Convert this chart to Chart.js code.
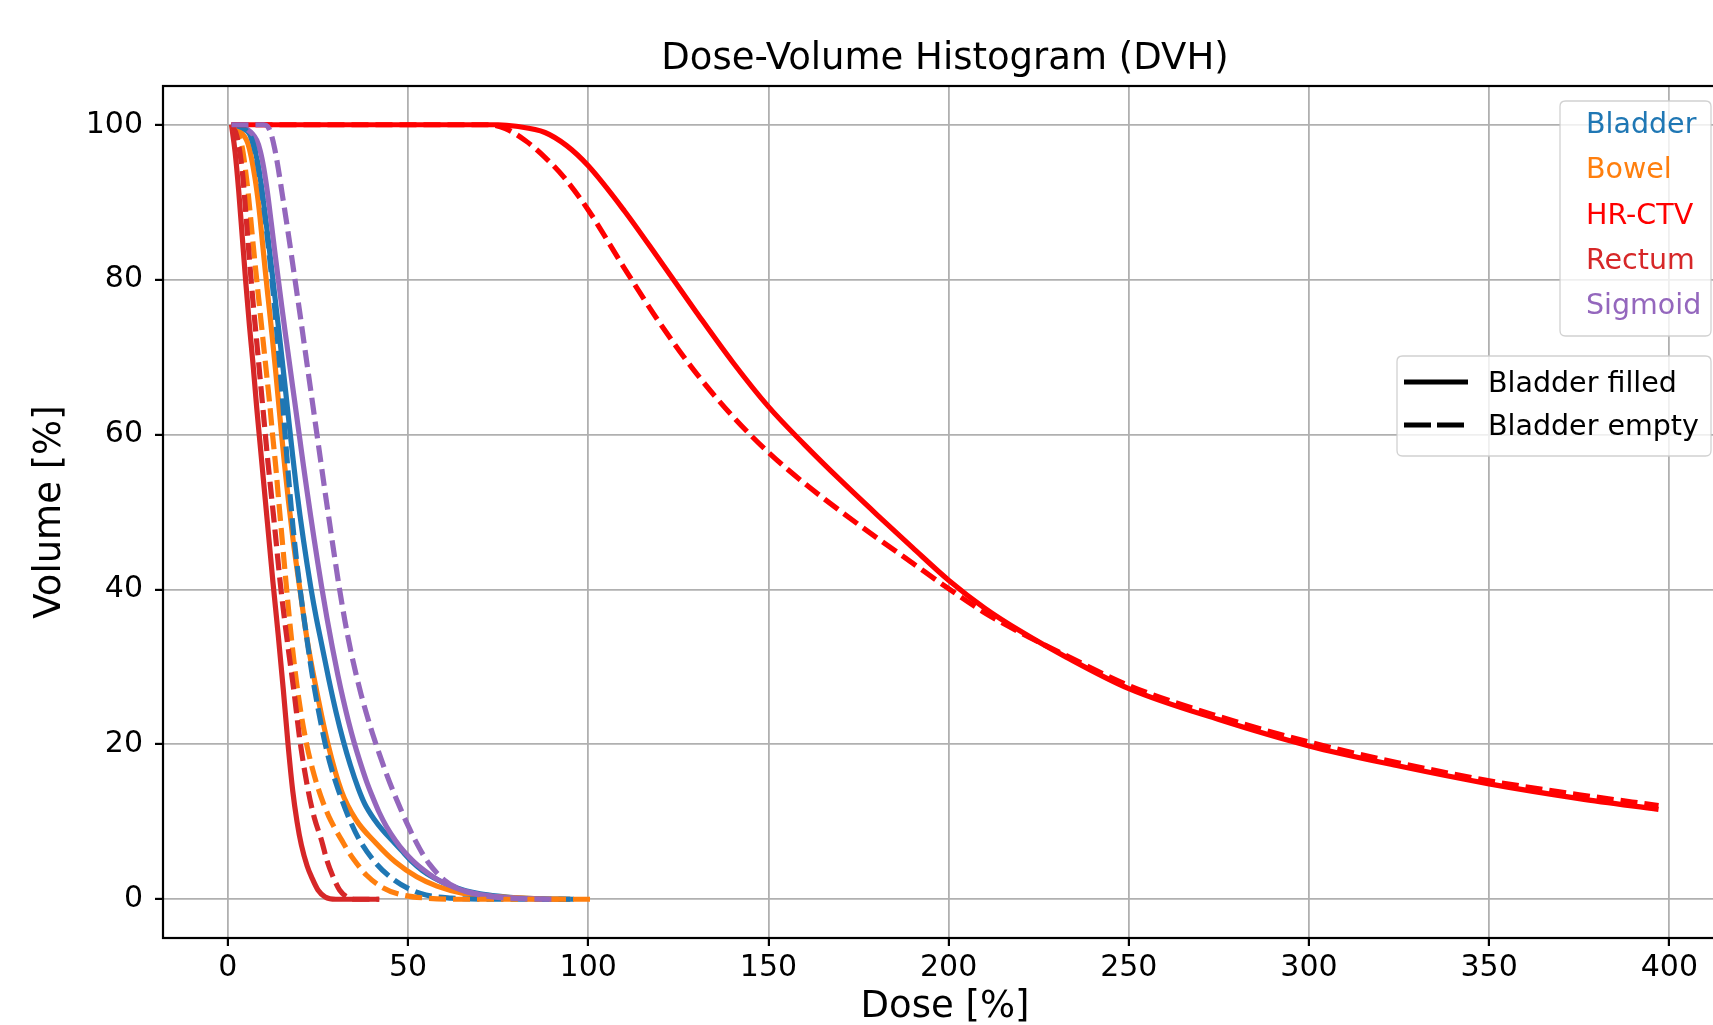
<!DOCTYPE html>
<html>
<head>
<meta charset="utf-8">
<title>Dose-Volume Histogram (DVH)</title>
<script src="https://cdn.jsdelivr.net/npm/chart.js@4.4.1/dist/chart.umd.min.js"></script>
<style>
  html, body { margin: 0; padding: 0; background: #fff; overflow: hidden; }
  #dvhChart { display: block; }
</style>
</head>
<body>
<canvas id="dvhChart" width="1760" height="1060"></canvas>
<script>
// structures and axis ticks
const structures = ['Bladder', 'Bowel', 'HR-CTV', 'Rectum', 'Sigmoid'];
const structureColors = ['#1f77b4', '#ff7f0e', '#ff0000', '#d62728', '#9467bd'];
const doseTicks = [0, 50, 100, 150, 200, 250, 300, 350, 400];
const volumeTicks = [0, 20, 40, 60, 80, 100];

// cumulative DVH curves, [dose %, volume %]
// bladder filled
const bladderFilled = [[1,100],[4,99.6],[6,98.8],[7,97.6],[8,95.7],[9,93],[10,89.6],[11,85.9],[12,82],[13,78],[14,74],[15,69.9],[16,65.7],[17,61.4],[18,57.2],[19,53.2],[20,49.6],[21,46.3],[22,43.2],[23,40.3],[24.5,36.4],[26,33],[28,28.4],[30,24.2],[32,20.5],[34,17.3],[36.2,14.3],[38,12.3],[40.5,10.4],[43,8.9],[46,7.4],[48,6.4],[51,4.9],[54,3.7],[57,2.8],[60,2.1],[63,1.55],[66,1.1],[70,0.7],[75,0.4],[80,0.2],[87,0.07],[96,0]];
const bowelFilled = [[1,100],[3,99.3],[5.6,97.5],[7.5,93.2],[8.7,89],[9.6,84.8],[10.5,80.6],[11.5,76.2],[12.4,72.2],[13.3,68],[14.1,64],[14.9,60],[15.8,55.8],[16.8,51.5],[18.2,46],[20,40],[22,33.5],[24.6,27],[27.8,20],[31.5,14],[35.5,10.3],[41,7.3],[46.5,4.8],[52.4,2.9],[58,1.7],[65,0.8],[75,0.3],[85,0.1],[95,0]];
const hrctvFilled = [[1,100],[60,100],[75,100],[80,99.8],[88,99],[94,97.3],[100,94.7],[110,88.9],[120,82.4],[130,75.8],[140,69.4],[150,63.6],[160,58.7],[170,54.1],[180,49.7],[190,45.4],[200,41.2],[210,37.6],[220,34.6],[232.5,31.3],[250,27.2],[275,23.2],[300,19.8],[325,17.2],[350,14.9],[375,13],[397,11.6]];
const rectumFilled = [[1,100],[2,96.5],[3,91.5],[4,85.5],[5,79.5],[6,74],[7,69],[8,63.5],[9,58.5],[10,53.5],[11,48.5],[12.5,41],[14,34],[15.4,27],[16.7,20],[18,14],[19.2,10],[20.4,7],[22,4.3],[23.3,2.8],[25,1.2],[27,0.3],[30,0],[42,0]];
const sigmoidFilled = [[1,100],[5,99.5],[8,98],[9,96.6],[10,94.3],[11,91.2],[12,87.5],[13,83.7],[14,80],[15,76.4],[16,72.9],[17,69.5],[18,66.1],[19,62.7],[20,59.3],[21,55.9],[22,52.6],[23,49.4],[24,46.3],[25,43.3],[26,40.4],[27.5,36.3],[29,32.5],[30.5,29],[32,25.8],[33.5,22.9],[35,20.3],[36.5,18],[38.5,15.2],[40,13.4],[42,11.2],[44,9.4],[46.5,7.6],[49,6.1],[51.5,4.9],[54,3.9],[57,2.9],[60,2.1],[63,1.5],[66,1],[70,0.6],[78,0.2],[88,0]];

// bladder empty
const bladderEmpty = [[1,100],[4,99.6],[6,98.8],[7,97.6],[8,95.6],[9,92.8],[10,89.3],[11,85.3],[12,81],[13,76.3],[14,71.1],[15,65.5],[16,59.3],[17,53.6],[18,48.4],[19,44],[20,40.2],[21,36.7],[22,33.4],[23,30.2],[24,27.3],[25,24.7],[26,22.3],[27,20.1],[28.5,17.3],[30.6,14.2],[33.5,10.6],[36.6,7.6],[41,4.7],[45,2.9],[50,1.4],[55,0.55],[62,0.15],[70,0.02],[95,0]];
const bowelEmpty = [[1,100],[2,99.3],[3.8,97.5],[5.2,93],[6.1,89],[7,84.6],[8,80],[8.9,76],[9.8,72],[10.7,68],[11.6,64],[12.4,60],[13.3,55.8],[14.1,51.5],[15,46.8],[16,41.6],[17,36.6],[18,32.1],[19,28.2],[20,24.9],[21,22.1],[22,19.7],[23.5,16.8],[25,14.4],[26.5,12.4],[28,10.7],[30,8.9],[31.5,7.7],[33,6.5],[35,5.1],[38.5,3.1],[43,1.5],[48,0.6],[55,0.15],[65,0],[102,0]];
const hrctvEmpty = [[1,100],[60,100],[72,100],[77,99.5],[82.7,97.9],[88,95.8],[93.3,93.2],[100,89],[110,81.5],[120,74.3],[130,67.9],[140,62.4],[150,57.7],[160,53.7],[170,50.1],[180,46.7],[190,43.4],[200,40.1],[210,37],[220,34.4],[232.5,31.5],[250,27.6],[275,23.6],[300,20.3],[325,17.6],[350,15.3],[375,13.5],[397,12.1]];
const rectumEmpty = [[1,100],[2.5,98.5],[4,94],[5,88.5],[6,82.5],[7,77],[8,72],[9,67],[10,62],[11,57],[12,52.5],[13,48],[14.5,41],[16.3,34],[18.3,27],[20,20.5],[22.3,14],[24,10.5],[26,7.6],[27.5,5],[29.2,2.9],[31,1.2],[33,0.3],[35,0],[42,0]];
const sigmoidEmpty = [[1,100],[10,100],[11,99.8],[12,98.8],[13,96.9],[14,94.3],[15,91.3],[16,88.3],[17,85.2],[18,82],[19,78.8],[20,75.6],[21,72.3],[22,69],[23,65.7],[24,62.4],[25,59.1],[26,55.8],[27,52.5],[28,49.3],[29,46.1],[30,43],[31,40],[32.5,35.9],[34,32.3],[35.5,29.2],[37,26.4],[38.5,23.9],[40,21.6],[42,18.8],[44,16.2],[46,13.8],[48,11.6],[50,9.5],[52,7.6],[54,5.9],[56,4.5],[58,3.4],[60,2.5],[63,1.6],[67,0.9],[72,0.4],[80,0.1],[90,0]];

const filledSeries = [bladderFilled, bowelFilled, hrctvFilled, rectumFilled, sigmoidFilled];
const emptySeries = [bladderEmpty, bowelEmpty, hrctvEmpty, rectumEmpty, sigmoidEmpty];

const FONT = "'DejaVu Sans', 'Liberation Sans', sans-serif";
const LINE_W = 5.2;
const DASH = [17, 7];

function makeLine(label, pts, color, dash) {
    return {
        label: label,
        data: pts.map(p => ({ x: p[0], y: p[1] })),
        borderColor: color,
        backgroundColor: color,
        borderWidth: LINE_W,
        borderDash: dash,
        borderCapStyle: 'butt',
        pointRadius: 0,
        fill: false,
        cubicInterpolationMode: 'monotone'
    };
}

const datasets = [];
filledSeries.forEach((pts, i) => datasets.push(makeLine(structures[i] + ' filled', pts, structureColors[i], [])));
emptySeries.forEach((pts, i) => datasets.push(makeLine(structures[i] + ' empty', pts, structureColors[i], DASH)));
// later lines on top, like matplotlib
datasets.forEach((ds, i) => { ds.order = datasets.length - i; });

// frame, title and the two legends
const decorPlugin = {
    id: 'decor',
    afterDatasetsDraw(chart) {
        const { ctx, chartArea: a } = chart;
        ctx.save();
        ctx.strokeStyle = '#000';
        ctx.lineWidth = 2.2;
        ctx.strokeRect(a.left, a.top, a.right - a.left, a.bottom - a.top);
        ctx.restore();
    },
    afterDraw(chart) {
        const { ctx, chartArea: a } = chart;
        ctx.save();
        // title
        ctx.fillStyle = '#000';
        ctx.font = '37px ' + FONT;
        ctx.textAlign = 'center';
        ctx.textBaseline = 'alphabetic';
        ctx.fillText('Dose-Volume Histogram (DVH)', (a.left + a.right) / 2, 68.5);

        // structure legend (coloured labels, no handles)
        const boxRight = a.right - 16;
        let bx = boxRight - 151, by = a.top + 15;
        legendBox(ctx, bx, by, 151, 235);
        ctx.font = '28.5px ' + FONT;
        ctx.textAlign = 'left';
        structures.forEach((name, i) => {
            ctx.fillStyle = structureColors[i];
            ctx.fillText(name, bx + 26, by + 32 + 45.3 * i);
        });

        // line style legend
        bx = 1397; by = a.top + 270;
        legendBox(ctx, bx, by, boxRight - bx, 100);
        const styles = [[], [27, 6]];
        const names = ['Bladder filled', 'Bladder empty'];
        names.forEach((name, i) => {
            const ly = by + 26 + 43 * i;
            ctx.strokeStyle = '#000';
            ctx.lineWidth = LINE_W;
            ctx.lineCap = 'butt';
            ctx.setLineDash(styles[i]);
            ctx.beginPath();
            ctx.moveTo(bx + 7, ly);
            ctx.lineTo(bx + 71, ly);
            ctx.stroke();
            ctx.setLineDash([]);
            ctx.fillStyle = '#000';
            ctx.fillText(name, bx + 91, ly + 10);
        });
        ctx.restore();
    }
};

function legendBox(ctx, x, y, w, h) {
    const r = 5.5;
    ctx.beginPath();
    ctx.moveTo(x + r, y);
    ctx.lineTo(x + w - r, y);
    ctx.quadraticCurveTo(x + w, y, x + w, y + r);
    ctx.lineTo(x + w, y + h - r);
    ctx.quadraticCurveTo(x + w, y + h, x + w - r, y + h);
    ctx.lineTo(x + r, y + h);
    ctx.quadraticCurveTo(x, y + h, x, y + h - r);
    ctx.lineTo(x, y + r);
    ctx.quadraticCurveTo(x, y, x + r, y);
    ctx.closePath();
    ctx.fillStyle = 'rgba(255,255,255,0.8)';
    ctx.fill();
    ctx.strokeStyle = 'rgba(204,204,204,0.9)';
    ctx.lineWidth = 1.3;
    ctx.setLineDash([]);
    ctx.stroke();
}

const gridOpts = {
    color: '#b0b0b0',
    lineWidth: 1.8,
    drawTicks: true,
    tickLength: 8,
    tickColor: '#000',
    tickWidth: 2.2
};

const ctx = document.getElementById('dvhChart').getContext('2d');
const dvhChart = new Chart(ctx, {
    type: 'line',
    data: { datasets: datasets },
    plugins: [decorPlugin],
    options: {
        responsive: false,
        animation: false,
        devicePixelRatio: 1,
        layout: { padding: { top: 86, right: 33, bottom: 0, left: 0 } },
        plugins: {
            legend: { display: false },
            tooltip: { enabled: false },
            title: { display: false }
        },
        scales: {
            x: {
                type: 'linear',
                min: -18,
                max: 416,
                afterBuildTicks: s => { s.ticks = doseTicks.map(v => ({ value: v })); },
                afterFit: s => { s.height = 122; },
                grid: gridOpts,
                border: { display: false },
                ticks: { color: '#000', font: { family: FONT, size: 30 }, padding: 4, maxRotation: 0, autoSkip: false },
                title: { display: true, text: 'Dose [%]', color: '#000', font: { family: FONT, size: 37 }, padding: { top: 0, bottom: 30 } }
            },
            y: {
                type: 'linear',
                min: -5,
                max: 105,
                afterBuildTicks: s => { s.ticks = volumeTicks.map(v => ({ value: v })); },
                afterFit: s => { s.width = 163; },
                grid: gridOpts,
                border: { display: false },
                ticks: { color: '#000', font: { family: FONT, size: 30 }, padding: 12, autoSkip: false },
                title: { display: true, text: 'Volume [%]', color: '#000', font: { family: FONT, size: 37 }, padding: { top: 28, bottom: 0 } }
            }
        }
    }
});
</script>
</body>
</html>
